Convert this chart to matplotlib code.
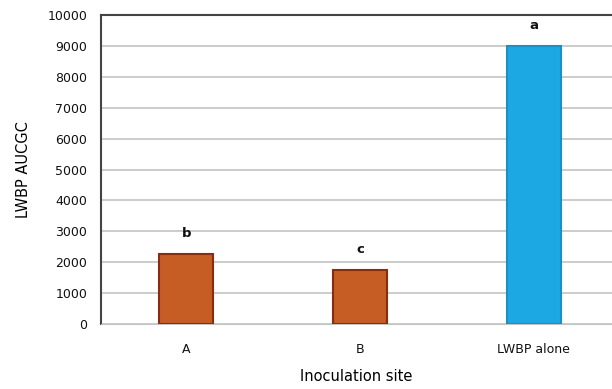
import numpy as np
import matplotlib
matplotlib.use("Agg")
import matplotlib.pyplot as plt

sites = ["A", "B", "LWBP alone"]
aucgc = [2270, 1760, 9000]
letters = ["b", "c", "a"]
colors = ["#C55D24", "#C55D24", "#1CA8E2"]
edges = ["#8A2C10", "#8A2C10", "#1A90C8"]

fig = plt.figure(figsize=(6.12, 3.89), dpi=100)
ax = fig.add_axes([0.165, 0.167, 0.835, 0.794])

x = np.arange(len(sites))
ax.bar(x, aucgc, width=0.31, color=colors, edgecolor=edges, linewidth=1.5, zorder=3)

# significance letters above each bar
for xi, v, lab in zip(x, aucgc, letters):
    ax.text(xi, v + 450, lab, ha="center", va="bottom", fontsize=9.5,
            color="#111111", fontweight="semibold")

ax.set_ylim(0, 10000)
ax.set_yticks(np.arange(0, 10001, 1000))
ax.set_xlim(-0.49, 2.45)
ax.set_xticks(x)
ax.set_xticklabels(sites)
ax.yaxis.grid(True, color="#C4C4C4", linewidth=1.2, zorder=0)
ax.tick_params(axis="both", length=0, labelsize=9, colors="#111111")
ax.tick_params(axis="x", pad=14)
ax.tick_params(axis="y", pad=10)

ax.spines["right"].set_visible(False)
ax.spines["bottom"].set_color("#C4C4C4")
ax.spines["left"].set_color("#444444")
ax.spines["top"].set_color("#444444")
ax.spines["left"].set_linewidth(1.5)
ax.spines["top"].set_linewidth(1.5)

ax.set_ylabel("LWBP AUCGC", fontsize=10.5, labelpad=12)
ax.set_xlabel("Inoculation site", fontsize=10.5, labelpad=9)

fig.savefig("out.png", dpi=100)
